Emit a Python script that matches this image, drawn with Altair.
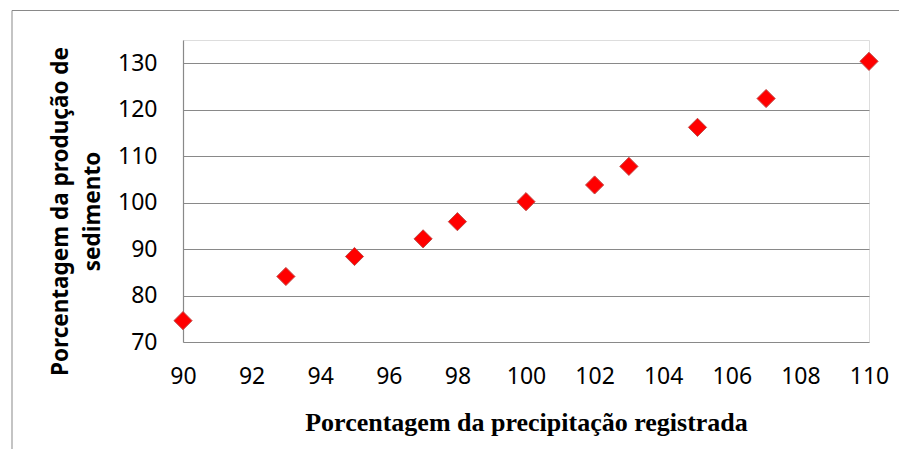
import altair as alt
import pandas as pd

# Data
precip = [90, 93, 95, 97, 98, 100, 102, 103, 105, 107, 110]
sediment = [74.6, 84.1, 88.4, 92.2, 95.9, 100.2, 103.8, 107.8, 116.2, 122.4, 130.4]
x_ticks = [90, 92, 94, 96, 98, 100, 102, 104, 106, 108, 110]
y_ticks = [70, 80, 90, 100, 110, 120, 130]

df = pd.DataFrame({"precip": precip, "sediment": sediment})

GRID = "#898989"

points = alt.Chart(df).mark_point(
    shape="diamond", filled=True, size=330, fill="#ff0000",
    stroke="#bf4a47", strokeWidth=1, opacity=1
).encode(
    x=alt.X("precip:Q",
            scale=alt.Scale(domain=[90, 110], nice=False, zero=False),
            axis=alt.Axis(values=x_ticks, grid=False, ticks=False, tickSize=0,
                          domain=False, labelPadding=23, labelFlush=False,
                          labelFont="Noto Sans", labelFontSize=23, labelColor="#000000",
                          title="Porcentagem da precipitação registrada",
                          titleFont="Liberation Serif", titleFontSize=26,
                          titleFontWeight="bold", titleColor="#000000",
                          titleY=80, titleBaseline="middle")),
    y=alt.Y("sediment:Q",
            scale=alt.Scale(domain=[70, 135], nice=False, zero=False),
            axis=alt.Axis(values=y_ticks, grid=True, gridColor=GRID, gridWidth=1.2,
                          ticks=False, tickSize=0, domain=True, domainColor=GRID,
                          domainWidth=1.2, labelPadding=26,
                          labelFont="Noto Sans", labelFontSize=23, labelColor="#000000",
                          title=["Porcentagem da produção de", "sedimento"],
                          titleFont="Noto Sans", titleFontSize=22.5, titleFontWeight="bold",
                          titleColor="#000000", titleAngle=270, titleAlign="center",
                          titleBaseline="top", titleX=-134, titleY=171,
                          titleLineHeight=32)),
)

one = pd.DataFrame({"a": [0]})
frame_top = alt.Chart(one).mark_rule(color=GRID, strokeWidth=1).encode(
    x=alt.value(-171), x2=alt.value(760), y=alt.value(-29.5))
frame_left = alt.Chart(one).mark_rule(color=GRID, strokeWidth=1).encode(
    x=alt.value(-171), y=alt.value(-29.5), y2=alt.value(420))

chart = alt.layer(frame_top, frame_left, points).properties(
    width=686, height=302,
    autosize=alt.AutoSizeParams(type="none"),
    padding={"left": 175, "top": 32, "right": 30, "bottom": 107},
).configure_view(stroke=None).configure(background="white")

chart.save("out.html", embed_options={"renderer": "svg", "actions": False})
